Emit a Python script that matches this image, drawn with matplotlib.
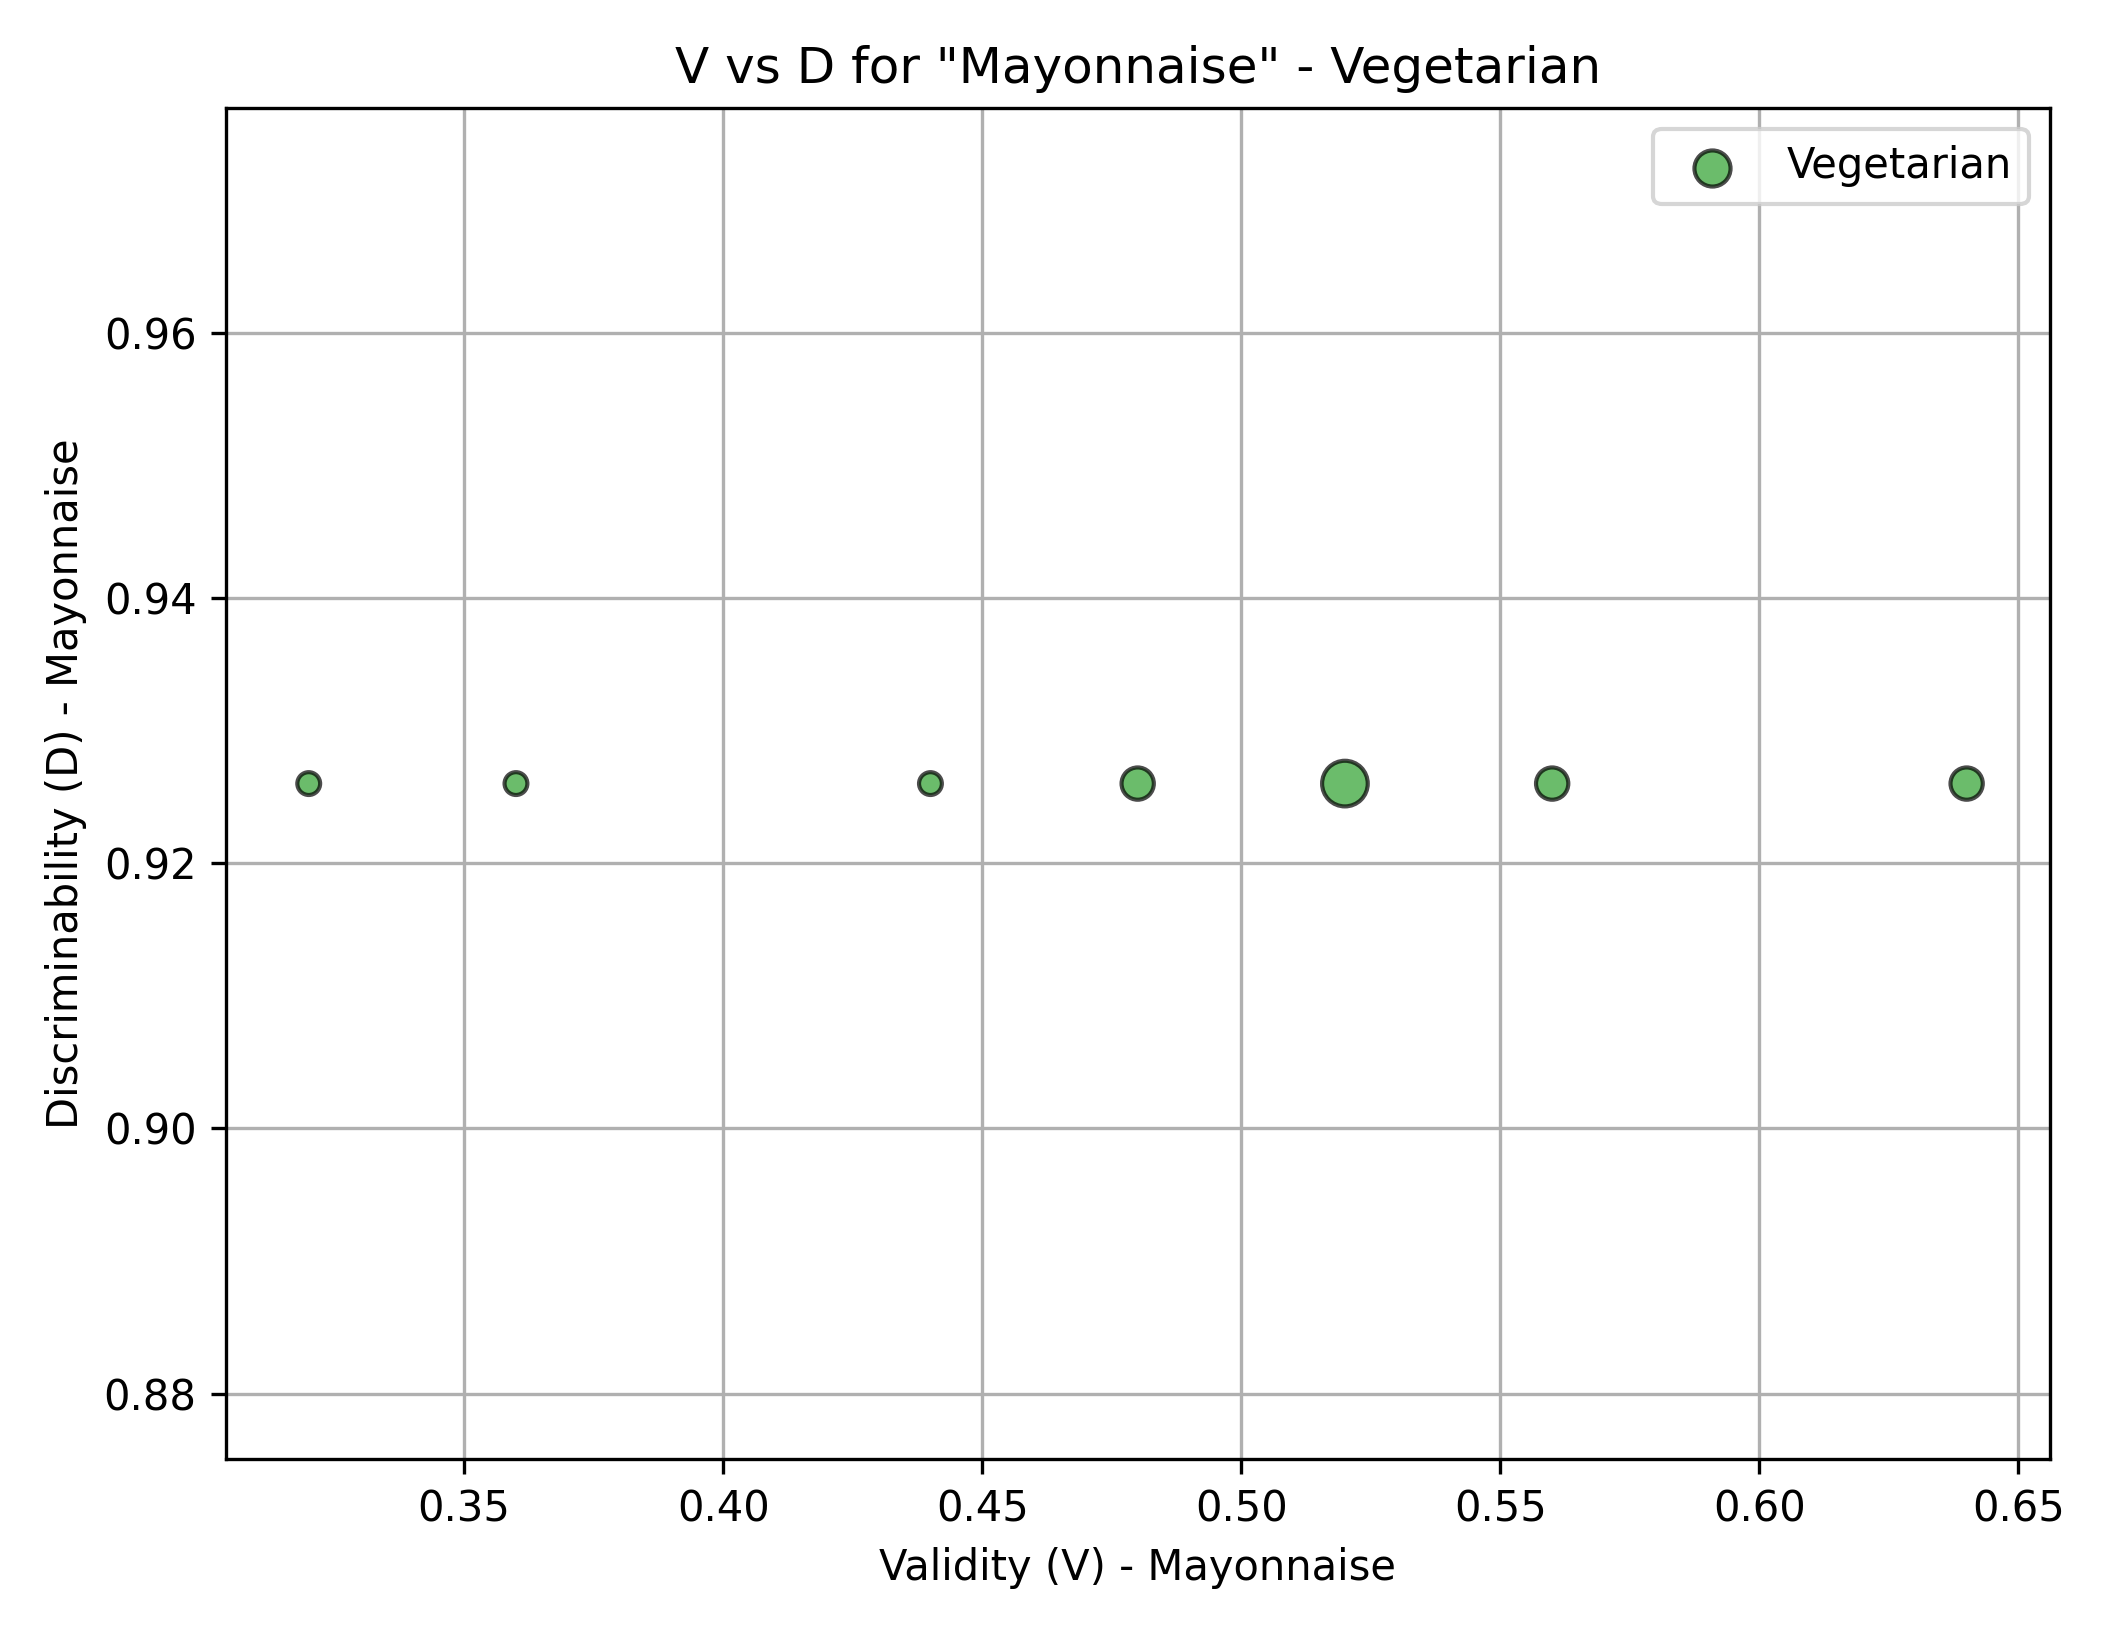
import matplotlib.pyplot as plt

# validity / discriminability points for Mayonnaise - Vegetarian
validity = [0.32, 0.36, 0.44, 0.48, 0.52, 0.56, 0.64]
discrim = [0.926, 0.926, 0.926, 0.926, 0.926, 0.926, 0.926]
counts = [1, 1, 1, 2, 4, 2, 2]

fig, ax = plt.subplots(figsize=(2113 / 300, 1634 / 300), dpi=300)
ax.scatter(validity, discrim, s=[c * 30 for c in counts], color="#2ca02c",
           alpha=0.7, edgecolors="black", linewidths=1, label="Vegetarian")
ax.set_title('V vs D for "Mayonnaise" - Vegetarian')
ax.set_xlabel("Validity (V) - Mayonnaise")
ax.set_ylabel("Discriminability (D) - Mayonnaise")
ax.legend(loc="upper right")
ax.grid(True)
fig.tight_layout()
fig.savefig("out.png", dpi=300)
